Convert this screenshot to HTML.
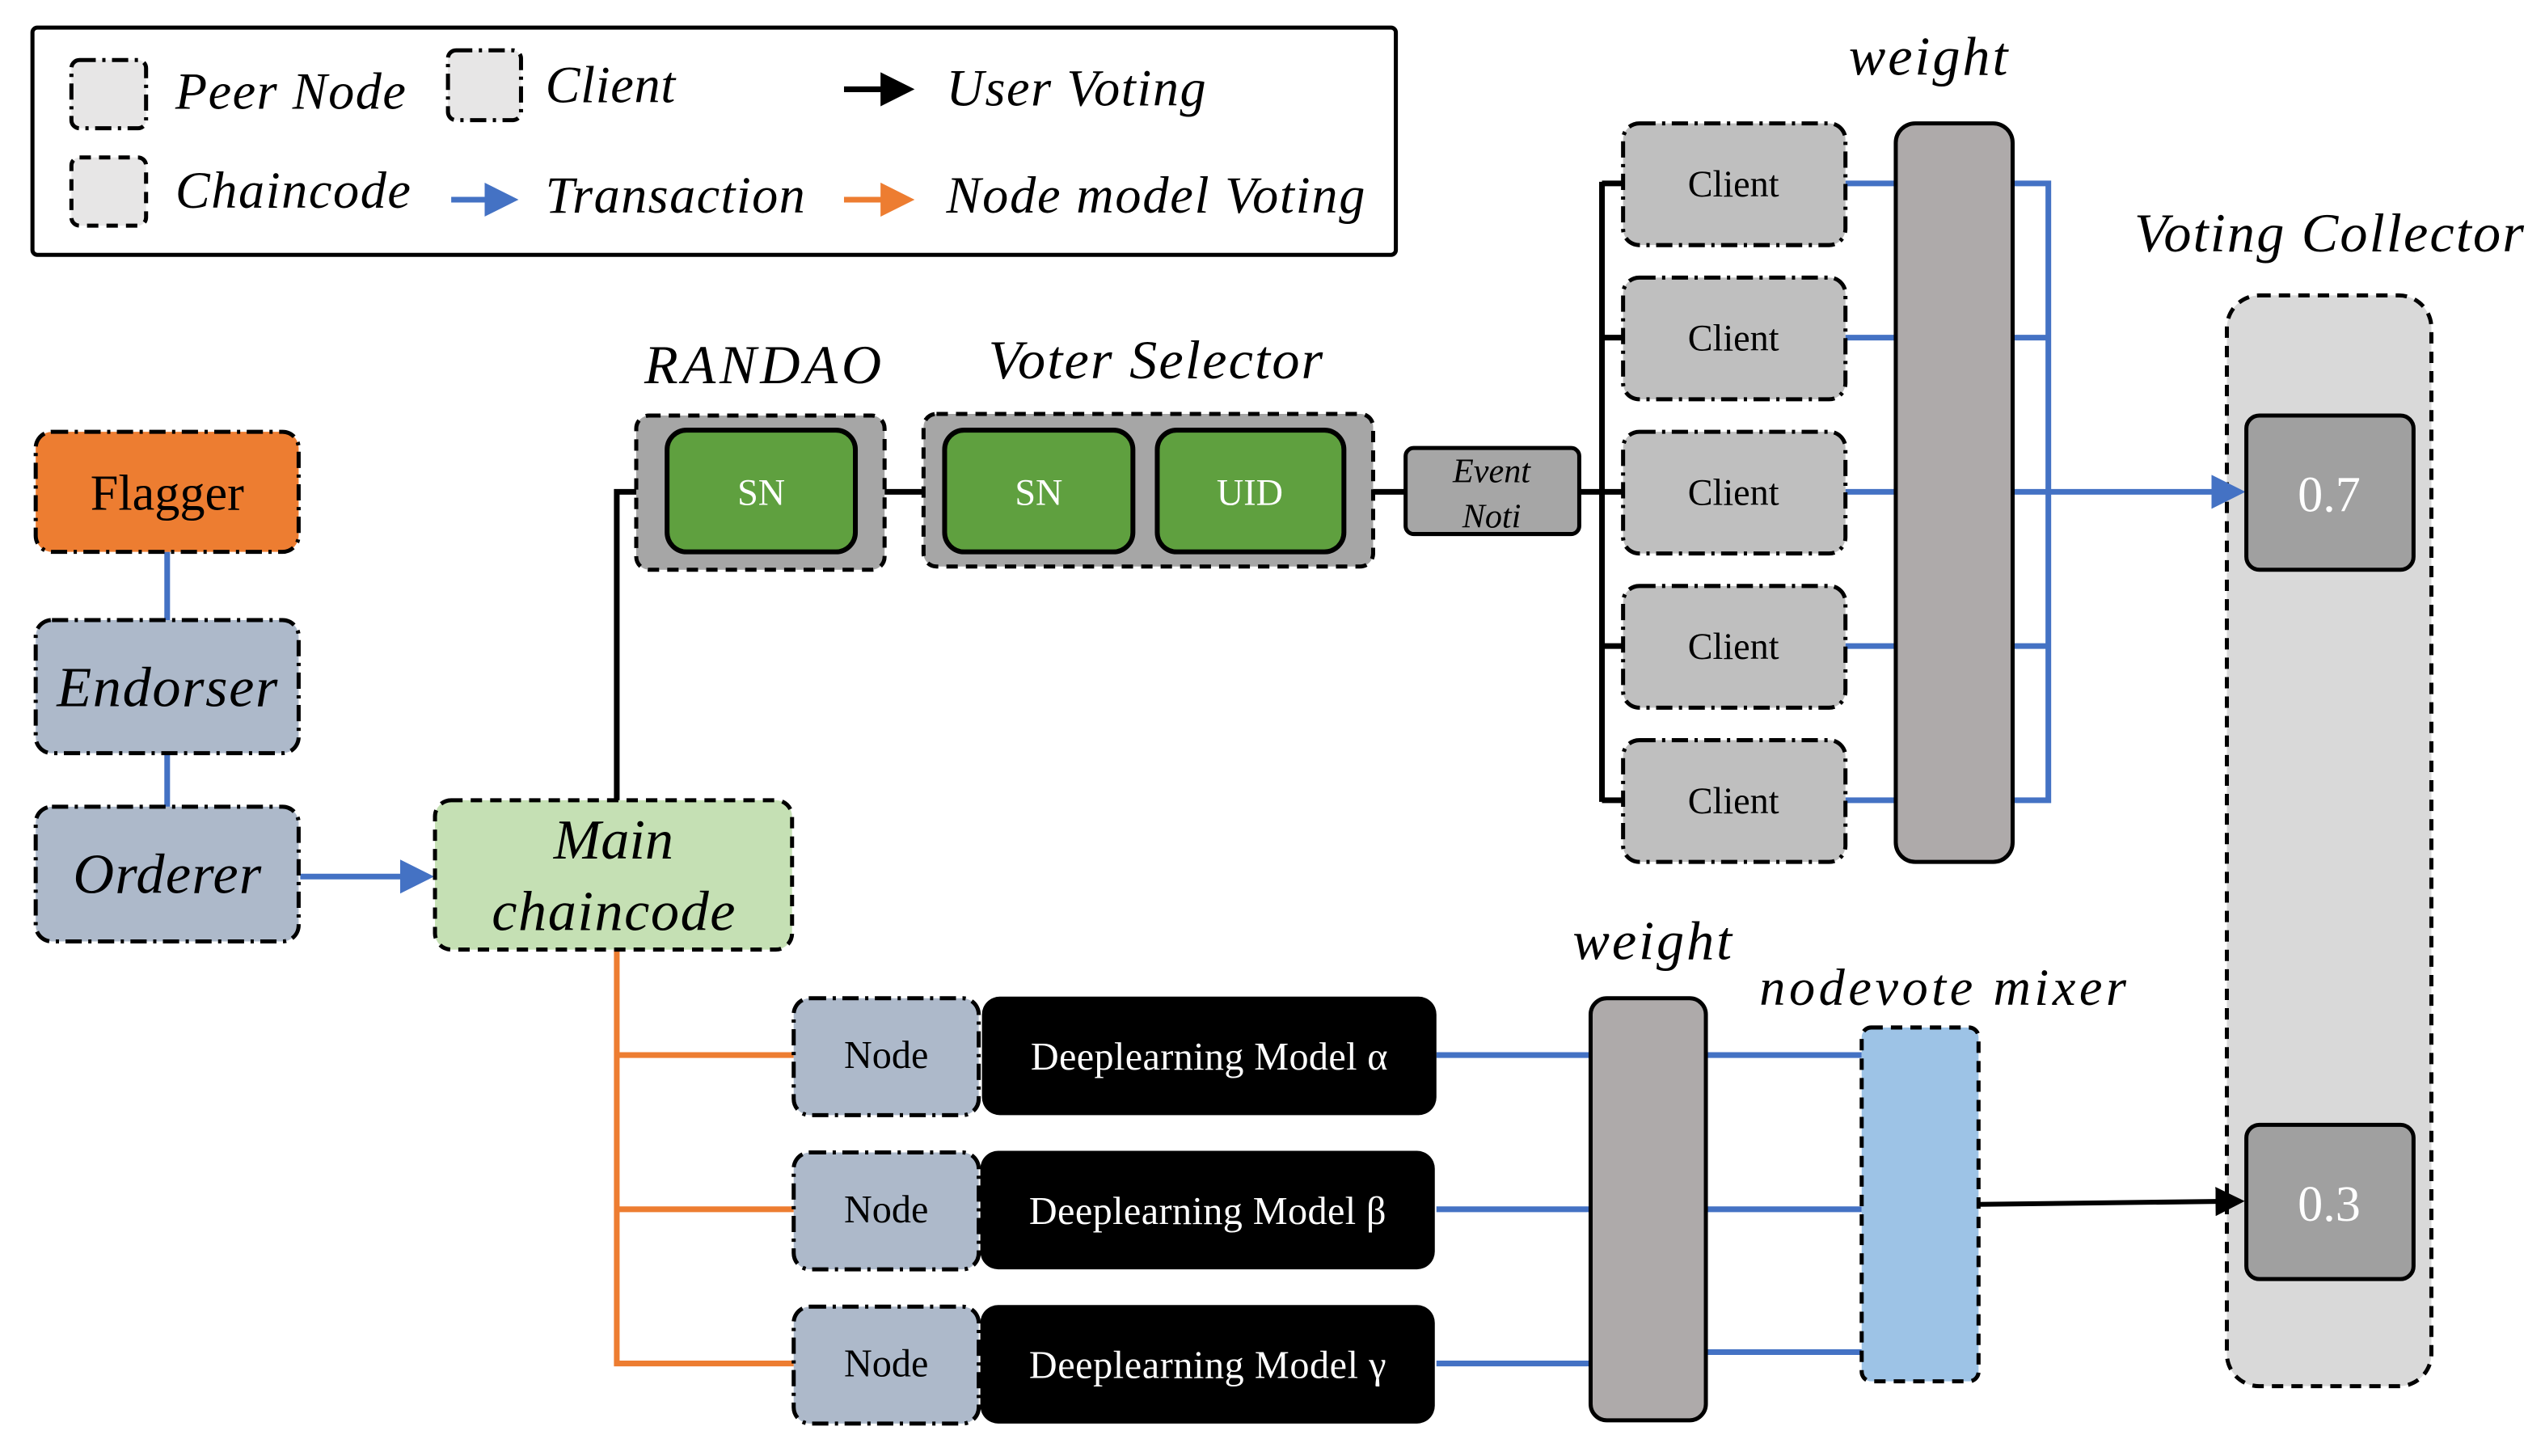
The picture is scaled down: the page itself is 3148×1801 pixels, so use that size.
<!DOCTYPE html>
<html><head><meta charset="utf-8"><style>html,body{margin:0;padding:0;background:#fff}svg{display:block}svg text{font-family:"Liberation Serif","DejaVu Serif",serif}</style></head>
<body>
<svg width="3148" height="1801" viewBox="0 0 1568 897" preserveAspectRatio="none" xmlns="http://www.w3.org/2000/svg" style="font-family:'Liberation Serif',serif">
<defs>
<marker id="ab" markerWidth="6" markerHeight="6" refX="5" refY="3" orient="auto" markerUnits="strokeWidth"><path d="M0,0 L6,3 L0,6z" fill="#4472C4"/></marker>
<marker id="ak" markerWidth="6" markerHeight="6" refX="5" refY="3" orient="auto" markerUnits="strokeWidth"><path d="M0,0 L6,3 L0,6z" fill="#000"/></marker>
<marker id="ao" markerWidth="6" markerHeight="6" refX="5" refY="3" orient="auto" markerUnits="strokeWidth"><path d="M0,0 L6,3 L0,6z" fill="#ED7D31"/></marker>
</defs>
<g stroke-linejoin="round">
<rect x="20" y="17" width="840" height="140" rx="3" fill="#fff" stroke="#000" stroke-width="2.5"/>
<rect x="44" y="37" width="46" height="42" rx="5" fill="#E7E6E6" stroke="#000" stroke-width="2.5" stroke-dasharray="10,4,2,4"/>
<rect x="276" y="31" width="45" height="43" rx="5" fill="#E7E6E6" stroke="#000" stroke-width="2.5" stroke-dasharray="10,4,2,4"/>
<rect x="44" y="97" width="46" height="42" rx="5" fill="#E7E6E6" stroke="#000" stroke-width="2.5" stroke-dasharray="7,5"/>
<line x1="520" y1="55" x2="560" y2="55" stroke="#000" stroke-width="3.5" marker-end="url(#ak)"/>
<line x1="278" y1="123" x2="316" y2="123" stroke="#4472C4" stroke-width="3.5" marker-end="url(#ab)"/>
<line x1="520" y1="123" x2="560" y2="123" stroke="#ED7D31" stroke-width="3.5" marker-end="url(#ao)"/>
</g>
<g font-style="italic" font-size="32" fill="#000">
<text x="108" y="67" textLength="142">Peer Node</text>
<text x="336" y="63" textLength="80">Client</text>
<text x="583" y="65" textLength="160">User Voting</text>
<text x="108" y="128" textLength="145">Chaincode</text>
<text x="336" y="131" textLength="160">Transaction</text>
<text x="583" y="131" textLength="258">Node model Voting</text>
</g>

<line x1="103" y1="340" x2="103" y2="382" stroke="#4472C4" stroke-width="3.5"/>
<line x1="103" y1="464" x2="103" y2="497" stroke="#4472C4" stroke-width="3.5"/>
<line x1="185" y1="540" x2="264" y2="540" stroke="#4472C4" stroke-width="3.5" marker-end="url(#ab)"/>
<rect x="22" y="266" width="162" height="74" rx="10" fill="#ED7D31" stroke="#000" stroke-width="2.5" stroke-dasharray="10,4,2,4"/>
<rect x="22" y="382" width="162" height="82" rx="10" fill="#ADB9CA" stroke="#000" stroke-width="2.5" stroke-dasharray="10,4,2,4"/>
<rect x="22" y="497" width="162" height="83" rx="10" fill="#ADB9CA" stroke="#000" stroke-width="2.5" stroke-dasharray="10,4,2,4"/>
<text x="103" y="314" font-size="31" text-anchor="middle">Flagger</text>
<text x="103" y="435" font-size="35" font-style="italic" text-anchor="middle" textLength="136">Endorser</text>
<text x="103" y="550" font-size="35" font-style="italic" text-anchor="middle" textLength="116">Orderer</text>

<polyline points="380,493 380,303 393,303" fill="none" stroke="#000" stroke-width="3.5"/>
<polyline points="489,650 380,650 380,585 380,840 489,840" fill="none" stroke="#ED7D31" stroke-width="3.5"/>
<line x1="380" y1="745" x2="489" y2="745" stroke="#ED7D31" stroke-width="3.5"/>
<rect x="268" y="493" width="220" height="92" rx="10" fill="#C5E0B4" stroke="#000" stroke-width="2.5" stroke-dasharray="7,5"/>
<text x="378" y="529" font-size="35" font-style="italic" text-anchor="middle">Main</text>
<text x="378" y="573" font-size="35" font-style="italic" text-anchor="middle" textLength="150">chaincode</text>

<line x1="545" y1="303" x2="569" y2="303" stroke="#000" stroke-width="3.5"/>
<line x1="846" y1="303" x2="866" y2="303" stroke="#000" stroke-width="3.5"/>
<line x1="973" y1="303" x2="987" y2="303" stroke="#000" stroke-width="3.5"/>
<rect x="392" y="256" width="153" height="95" rx="8" fill="#A6A6A6" stroke="#000" stroke-width="2.5" stroke-dasharray="7,5"/>
<rect x="569" y="255" width="277" height="94" rx="8" fill="#A6A6A6" stroke="#000" stroke-width="2.5" stroke-dasharray="7,5"/>
<rect x="411" y="265" width="116" height="75" rx="12" fill="#5FA03F" stroke="#000" stroke-width="3"/>
<rect x="582" y="265" width="116" height="75" rx="12" fill="#5FA03F" stroke="#000" stroke-width="3"/>
<rect x="713" y="265" width="115" height="75" rx="12" fill="#5FA03F" stroke="#000" stroke-width="3"/>
<g font-size="23" fill="#fff" text-anchor="middle">
<text x="469" y="311">SN</text><text x="640" y="311">SN</text><text x="770" y="311">UID</text>
</g>
<text x="470" y="236" font-size="34" font-style="italic" text-anchor="middle" textLength="146">RANDAO</text>
<text x="712" y="233" font-size="34" font-style="italic" text-anchor="middle" textLength="206">Voter Selector</text>
<rect x="866" y="276" width="107" height="53" rx="5" fill="#A6A6A6" stroke="#000" stroke-width="2.5"/>
<text x="919" y="297" font-size="21" font-style="italic" text-anchor="middle">Event</text>
<text x="919" y="325" font-size="21" font-style="italic" text-anchor="middle">Noti</text>

<g stroke="#000" stroke-width="3.5" fill="none">
<line x1="987" y1="112" x2="987" y2="494"/>
<line x1="987" y1="113" x2="1000" y2="113"/><line x1="987" y1="208" x2="1000" y2="208"/>
<line x1="987" y1="303" x2="1000" y2="303"/><line x1="987" y1="398" x2="1000" y2="398"/>
<line x1="987" y1="493" x2="1000" y2="493"/>
</g>
<g stroke="#4472C4" stroke-width="3.5" fill="none">
<line x1="1137" y1="113" x2="1168" y2="113"/><line x1="1137" y1="208" x2="1168" y2="208"/>
<line x1="1137" y1="303" x2="1168" y2="303"/><line x1="1137" y1="398" x2="1168" y2="398"/>
<line x1="1137" y1="493" x2="1168" y2="493"/>
<polyline points="1240,113 1262,113 1262,493 1240,493"/>
<line x1="1240" y1="208" x2="1262" y2="208"/><line x1="1240" y1="303" x2="1262" y2="303"/>
<line x1="1240" y1="398" x2="1262" y2="398"/>
</g>
<g fill="#BFBFBF" stroke="#000" stroke-width="2.5" stroke-dasharray="10,4,2,4">
<rect x="1000" y="76" width="137" height="75" rx="10"/>
<rect x="1000" y="171" width="137" height="75" rx="10"/>
<rect x="1000" y="266" width="137" height="75" rx="10"/>
<rect x="1000" y="361" width="137" height="75" rx="10"/>
<rect x="1000" y="456" width="137" height="75" rx="10"/>
</g>
<g font-size="23" text-anchor="middle" fill="#000">
<text x="1068" y="121">Client</text><text x="1068" y="216">Client</text><text x="1068" y="311">Client</text>
<text x="1068" y="406">Client</text><text x="1068" y="501">Client</text>
</g>
<rect x="1168" y="76" width="72" height="455" rx="12" fill="#AEAAAA" stroke="#000" stroke-width="2.5"/>
<text x="1188" y="46" font-size="34" font-style="italic" text-anchor="middle" textLength="98">weight</text>

<rect x="1372" y="182" width="126" height="672" rx="20" fill="#D9D9D9" stroke="#000" stroke-width="2.5" stroke-dasharray="7,5"/>
<text x="1435" y="155" font-size="34" font-style="italic" text-anchor="middle" textLength="240">Voting Collector</text>
<line x1="1262" y1="303" x2="1380" y2="303" stroke="#4472C4" stroke-width="3.5" marker-end="url(#ab)"/>
<rect x="1384" y="256" width="103" height="95" rx="8" fill="#A0A0A0" stroke="#000" stroke-width="2.5"/>
<rect x="1384" y="693" width="103" height="95" rx="8" fill="#A0A0A0" stroke="#000" stroke-width="2.5"/>
<text x="1435" y="315" font-size="31" fill="#fff" text-anchor="middle">0.7</text>
<text x="1435" y="752" font-size="31" fill="#fff" text-anchor="middle">0.3</text>

<g stroke="#4472C4" stroke-width="3.5">
<line x1="885" y1="650" x2="980" y2="650"/><line x1="885" y1="745" x2="980" y2="745"/><line x1="885" y1="840" x2="980" y2="840"/>
<line x1="1051" y1="650" x2="1147" y2="650"/><line x1="1051" y1="745" x2="1147" y2="745"/><line x1="1051" y1="833" x2="1147" y2="833"/>
</g>
<g fill="#ADB9CA" stroke="#000" stroke-width="2.5" stroke-dasharray="10,4,2,4">
<rect x="489" y="615" width="114" height="72" rx="10"/>
<rect x="489" y="710" width="114" height="72" rx="10"/>
<rect x="489" y="805" width="114" height="72" rx="10"/>
</g>
<g fill="#000">
<rect x="605" y="614" width="280" height="73" rx="11"/>
<rect x="604" y="709" width="280" height="73" rx="11"/>
<rect x="604" y="804" width="280" height="73" rx="11"/>
</g>
<g font-size="24" text-anchor="middle">
<text x="546" y="658">Node</text><text x="546" y="753">Node</text><text x="546" y="848">Node</text>
<text x="745" y="659" fill="#fff" textLength="220">Deeplearning Model α</text>
<text x="744" y="754" fill="#fff" textLength="220">Deeplearning Model β</text>
<text x="744" y="849" fill="#fff" textLength="220">Deeplearning Model γ</text>
</g>
<rect x="980" y="615" width="71" height="260" rx="10" fill="#AEAAAA" stroke="#000" stroke-width="2.5"/>
<text x="1018" y="591" font-size="34" font-style="italic" text-anchor="middle" textLength="98">weight</text>
<rect x="1147" y="633" width="72" height="218" rx="6" fill="#9DC3E6" stroke="#000" stroke-width="2.5" stroke-dasharray="7,5"/>
<text x="1197" y="619" font-size="32" font-style="italic" text-anchor="middle" textLength="226">nodevote mixer</text>
<line x1="1219" y1="742" x2="1380" y2="740" stroke="#000" stroke-width="3" marker-end="url(#ak)"/>
</svg>
</body></html>
